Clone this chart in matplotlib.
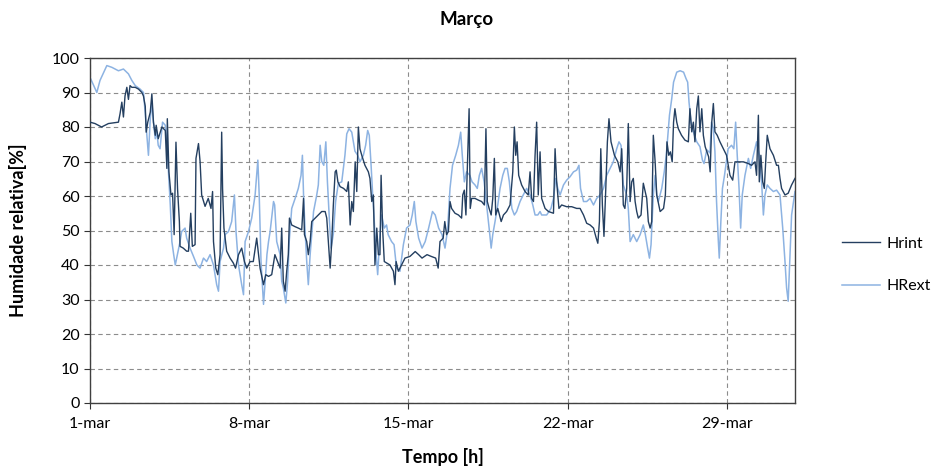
import matplotlib
matplotlib.use("Agg")
import matplotlib.pyplot as plt
import numpy as np

# ---- data (time in days since 1-mar 00h, relative humidity %) ----
hrint_t = [0.0, 0.22, 0.51, 0.81, 1.25, 1.32, 1.4, 1.47, 1.54, 1.62, 1.69, 1.76, 1.84, 1.99, 2.13, 2.28,
           2.35, 2.43, 2.47, 2.54, 2.65, 2.72, 2.79, 2.87, 2.91, 3.0, 3.16, 3.31, 3.38, 3.4, 3.47, 3.56,
           3.63, 3.7, 3.78, 3.85, 3.93, 3.96, 4.1, 4.25, 4.33, 4.43, 4.5, 4.62, 4.66, 4.77, 4.84, 4.91,
           5.06, 5.2, 5.32, 5.39, 5.43, 5.53, 5.62, 5.72, 5.79, 5.83, 5.89, 6.01, 6.16, 6.3, 6.4, 6.53,
           6.67, 6.79, 6.89, 7.04, 7.18, 7.33, 7.48, 7.63, 7.73, 7.85, 7.99, 8.13, 8.25, 8.36, 8.43, 8.5,
           8.58, 8.65, 8.72, 8.77, 8.87, 9.02, 9.16, 9.31, 9.39, 9.43, 9.53, 9.6, 9.68, 9.75, 9.9, 10.04,
           10.19, 10.34, 10.41, 10.48, 10.56, 10.63, 10.7, 10.78, 10.83, 10.9, 11.0, 11.15, 11.29, 11.36,
           11.44, 11.51, 11.58, 11.66, 11.73, 11.8, 11.87, 11.95, 12.09, 12.24, 12.31, 12.39, 12.46,
           12.53, 12.61, 12.68, 12.75, 12.8, 12.87, 12.94, 13.04, 13.19, 13.34, 13.41, 13.46, 13.56,
           13.7, 13.85, 14.07, 14.3, 14.45, 14.6, 14.82, 15.0, 15.2, 15.31, 15.39, 15.53, 15.6, 15.68,
           15.76, 15.83, 15.9, 16.05, 16.2, 16.34, 16.39, 16.46, 16.53, 16.61, 16.67, 16.72, 16.78,
           16.93, 17.08, 17.22, 17.34, 17.41, 17.47, 17.55, 17.64, 17.71, 17.78, 17.84, 17.93, 18.08,
           18.18, 18.32, 18.47, 18.59, 18.66, 18.72, 18.78, 18.85, 18.98, 19.13, 19.27, 19.35, 19.42,
           19.5, 19.57, 19.64, 19.71, 19.79, 19.86, 20.01, 20.16, 20.38, 20.45, 20.52, 20.62, 20.74,
           20.96, 21.18, 21.4, 21.55, 21.7, 21.84, 21.99, 22.14, 22.26, 22.33, 22.4, 22.46, 22.53, 22.6,
           22.68, 22.75, 22.82, 22.91, 23.06, 23.21, 23.31, 23.38, 23.45, 23.52, 23.6, 23.67, 23.75,
           23.82, 23.89, 23.97, 24.04, 24.11, 24.23, 24.33, 24.41, 24.48, 24.55, 24.63, 24.7, 24.77,
           24.85, 24.92, 25.07, 25.22, 25.3, 25.37, 25.45, 25.52, 25.6, 25.66, 25.72, 25.8, 25.87, 26.01,
           26.16, 26.31, 26.38, 26.46, 26.53, 26.6, 26.68, 26.75, 26.82, 26.9, 26.97, 27.05, 27.2, 27.27,
           27.34, 27.41, 27.48, 27.58, 27.7, 27.85, 27.99, 28.14, 28.26, 28.36, 28.51, 28.73, 28.95,
           29.09, 29.24, 29.31, 29.39, 29.43, 29.5, 29.58, 29.65, 29.72, 29.78, 29.9, 30.05, 30.19,
           30.27, 30.34, 30.41, 30.56, 30.7, 30.85, 31.0]
hrint_v = [81.4, 81, 80, 81, 81.4, 83.8, 87.2, 82.9, 89, 91.5, 88, 92, 91.5, 91.5, 91, 90,
           89, 86, 78.5, 81.4, 84.3, 89.6, 81.4, 77.6, 80.5, 76.6, 80, 79, 68, 82.4, 67, 60.3,
           60.8, 48.8, 75.6, 62, 52.6, 45.4, 44.9, 44, 44, 55, 45.4, 45.9, 70.9, 75.2, 70, 60.3,
           57, 59.3, 56.4, 61.3, 46.8, 39.1, 37.2, 43, 78.5, 62, 50.7, 44, 42, 40.6, 39.1, 43,
           44.9, 41, 39.1, 41, 41, 47.8, 39, 34.3, 37.2, 36.7, 37.2, 43, 41, 39.1, 50.7, 35.3,
           32.4, 38.2, 43, 53.6, 51.6, 51.1, 50.7, 50.2, 59.3, 48.8, 46.8, 43, 46.8, 52.6, 53.6, 54.5,
           55.5, 55.5, 53.6, 46.8, 39.1, 46.8, 57.4, 67, 67.5, 64.1, 62.7, 62.2, 61.3, 64.1,
           51.6, 58.4, 55.5, 69.9, 61.3, 80, 73.7, 71.8, 68.9, 67, 65.1, 58.4, 60.3,
           40, 50.7, 43, 43, 66, 50, 41, 40.6, 40, 38.2, 34.3, 41, 38.2,
           40, 42, 42.5, 43.9, 43, 42, 43, 42.5, 42, 39.1, 46.8, 47.8, 52.6, 48.8,
           49.7, 58.4, 56.4, 55, 54.5, 53.6, 60.3, 61.7, 54.5, 71.8, 85.3, 56.4, 59.3,
           59.3, 58.8, 58.4, 57.4, 79.5, 58.4, 56.4, 54.5, 59.3, 70.9, 54.5, 56.4, 52.6,
           54.5, 55.5, 57.4, 67, 80, 71.8, 75.7, 66, 63.2, 61.3, 60.3, 67, 59.3,
           58.4, 71.8, 81.4, 60.3, 72.8, 59.3, 56.4, 55.5, 55, 73.7, 64.1, 56.4, 57.4,
           56.9, 56.9, 56.4, 56.4, 54.5, 52.1, 51.6, 50.7, 47.8, 46.3, 52.6, 73.7, 57.4, 48.3,
           62.2, 75.7, 82.4, 75.7, 71.8, 69.9, 67, 73.7, 57.4, 56.4, 62.2, 81, 58.4,
           64.1, 65.1, 58.4, 55.5, 53.6, 54.5, 63.7, 61.3, 59.3, 52.6, 50.7, 52.6, 77.6,
           69.9, 60.3, 55.5, 56.4, 60.3, 75.7, 71.8, 72.8, 69.9, 81.4, 85.3, 81.4, 79.5, 77.6,
           76.2, 75.7, 85.3, 78.6, 81.4, 75.7, 85.3, 89, 78.6, 85.3, 77.6, 74.3, 71.4, 67,
           81.4, 86.8, 78.6, 77.6, 75.7, 73.7, 71.8, 66, 64.6, 69.9, 69.9, 69.9, 69.4,
           68.9, 69.9, 66, 83.4, 64.1, 71.8, 64.1, 62.2, 70.9, 77.6, 73.7, 71.8, 68.9,
           68.9, 65.1, 62.2, 60.3, 60.8, 63.2, 65.1]

hrext_t = [0.0, 0.3, 0.44, 0.74, 0.96, 1.25, 1.47, 1.69, 1.84, 1.99, 2.2, 2.35, 2.43, 2.5, 2.57, 2.65,
           2.72, 2.79, 2.87, 2.94, 3.0, 3.08, 3.19, 3.31, 3.38, 3.45, 3.53, 3.6, 3.68, 3.75, 3.96, 4.03,
           4.18, 4.25, 4.4, 4.55, 4.7, 4.84, 4.99, 5.13, 5.28, 5.43, 5.57, 5.65, 5.72, 5.87, 5.94, 6.09,
           6.23, 6.35, 6.42, 6.53, 6.67, 6.75, 6.82, 6.97, 7.11, 7.26, 7.38, 7.44, 7.52, 7.63, 7.7, 7.78,
           7.85, 7.92, 8.07, 8.12, 8.21, 8.36, 8.43, 8.5, 8.61, 8.69, 8.76, 8.87, 9.02, 9.16, 9.28, 9.34,
           9.39, 9.46, 9.53, 9.6, 9.68, 9.83, 9.97, 10.04, 10.12, 10.19, 10.28, 10.37, 10.44, 10.53,
           10.6, 10.7, 10.8, 10.92, 11.07, 11.21, 11.29, 11.39, 11.51, 11.58, 11.65, 11.77, 11.87,
           12.02, 12.12, 12.21, 12.28, 12.36, 12.43, 12.5, 12.58, 12.65, 12.73, 12.82, 12.94, 13.04,
           13.11, 13.26, 13.37, 13.48, 13.63, 13.78, 13.92, 14.07, 14.17, 14.26, 14.33, 14.45, 14.6,
           14.74, 14.89, 15.06, 15.18, 15.33, 15.48, 15.61, 15.72, 15.83, 15.94, 16.08, 16.2, 16.3,
           16.37, 16.46, 16.56, 16.7, 16.8, 16.93, 17.03, 17.12, 17.22, 17.33, 17.44, 17.55, 17.64,
           17.71, 17.81, 17.93, 18.03, 18.15, 18.25, 18.35, 18.44, 18.55, 18.66, 18.76, 18.91, 19.05,
           19.2, 19.35, 19.47, 19.57, 19.69, 19.79, 19.86, 20.08, 20.27, 20.38, 20.48, 20.57, 20.67,
           20.82, 20.96, 21.11, 21.26, 21.4, 21.5, 21.57, 21.7, 21.84, 21.99, 22.14, 22.28, 22.43,
           22.58, 22.72, 22.87, 23.01, 23.16, 23.26, 23.35, 23.45, 23.6, 23.67, 23.75, 23.89, 24.04,
           24.19, 24.33, 24.42, 24.52, 24.6, 24.67, 24.77, 24.85, 24.92, 24.99, 25.14, 25.25, 25.34,
           25.41, 25.48, 25.58, 25.66, 25.8, 25.95, 26.1, 26.21, 26.28, 26.34, 26.43, 26.53, 26.68,
           26.82, 26.93, 27.0, 27.12, 27.26, 27.33, 27.41, 27.48, 27.55, 27.63, 27.67, 27.74, 27.81,
           27.9, 28.06, 28.21, 28.31, 28.39, 28.46, 28.54, 28.61, 28.68, 28.8, 28.95, 29.05, 29.17,
           29.31, 29.43, 29.53, 29.61, 29.68, 29.78, 29.9, 30.05, 30.19, 30.34, 30.46, 30.56, 30.63,
           30.7, 30.78, 30.85, 31.0]
hrext_v = [94.4, 90, 93.5, 97.8, 97.3, 96.3, 96.8, 95.4, 93.5, 92, 91, 90, 84, 77.6, 71.8, 82.4,
           87, 81.4, 76.6, 78.5, 74.7, 73.7, 81.4, 80.5, 75.6, 67, 57.4, 46.8, 43, 40, 46.8, 49.7,
           50.7, 47.8, 44.9, 42.5, 40, 39.1, 42, 41, 43, 40, 34.3, 32.4, 41, 44.9, 48.8, 49.7,
           52.6, 60.3, 49.7, 40, 34.3, 31.4, 46.8, 49.7, 53.6, 60.3, 70.4, 60.3, 41, 28.6, 35, 43,
           46.8, 49.7, 58.4, 57.4, 46.8, 43, 35.3, 33.4, 29, 35.3, 46.8, 56.4, 59.3, 62.2, 66, 71.8,
           60.3, 49.7, 41, 34.3, 43, 55.5, 60.3, 63.2, 74.7, 70, 68.9, 75.7, 64.1, 52.6,
           44.9, 49, 58.4, 63.7, 64.1, 71.8, 78, 79.5, 78.5, 75.7, 73, 71.8, 69.9,
           71.8, 74.7, 79, 77.6, 68.9, 60.3, 52.6, 43, 37.2, 46.8, 54.5, 50.7, 51.6,
           48.8, 46.8, 45.9, 39.1, 38.2, 45.9, 50.7, 51.6, 54.5, 58.4, 52.6, 47.8, 44.9,
           46.8, 50.7, 55.5, 54.5, 50.7, 48.8, 44.9, 50, 62.2, 68.9, 71.8, 74.7, 78.5,
           71.8, 64.1, 67, 66, 64.1, 63.2, 62.2, 66, 68, 64.1, 57.4, 50.7, 44.9,
           48.8, 52.6, 57.4, 62.2, 66, 68, 68, 64.1, 56.4, 54.5, 55.5, 58.4, 60.3,
           62.2, 60.3, 57.4, 54.5, 54.5, 55.5, 54.5, 54.5, 56.4, 59.3, 65.1, 62.2, 60.3,
           63.2, 64.6, 65.6, 67, 67.5, 68.9, 62.2, 58.4, 58.4, 59.3, 57.4, 59.3, 60.3,
           62.2, 66, 68, 69.9, 73.7, 75.7, 74.7, 63.2, 60.3, 56.4, 46.8, 48.8, 46.8,
           48.8, 51.6, 48.8, 44.9, 42, 45.9, 60.3, 66, 60.3, 58.4, 62.2, 67, 71.8,
           77.6, 83.4, 88.2, 93, 95.9, 96.3, 95.9, 94, 93, 87.2, 81.4, 78.6, 75.7,
           74.3, 70.4, 69.4, 73.4, 72.5, 81.4, 79.5, 72.8, 58.4, 46.8, 42, 52.6, 62.2,
           66, 73.7, 74.7, 73.7, 81.4, 71.8, 62.2, 50.7, 60.3, 66, 70.9, 68, 71.8,
           75.7, 71.8, 64.1, 54.5, 60.3, 63.2, 62.2, 61.3, 61.7, 60.3, 50.7, 41, 33.4,
           29.5, 43, 54.5, 61.3]

tick_days = [0, 7, 14, 21, 28]
tick_labels = ["1-mar", "8-mar", "15-mar", "22-mar", "29-mar"]
series_names = ["Hrint", "HRext"]

# ---- plot ----
plt.rcParams['font.family'] = ['Lato', 'DejaVu Sans']
fig = plt.figure(figsize=(9.34, 4.68), dpi=100)
ax = fig.add_axes([90/934, 1 - 403/468, 705/934, 345/468])

dark = '#243F60'
light = '#8DB3E2'
ax.plot(hrext_t, hrext_v, color=light, lw=1.1, label=series_names[1], zorder=2)
ax.plot(hrint_t, hrint_v, color=dark, lw=1.0, label=series_names[0], zorder=3)

ax.set_xlim(0, 31)
ax.set_ylim(0, 100)
ax.set_yticks(np.arange(0, 101, 10))
ax.set_xticks(tick_days)
ax.set_xticklabels(tick_labels)
ax.tick_params(axis='both', labelsize=11.5, colors='#333333', length=4, direction='out')
ax.tick_params(axis='x', pad=6)
for lab in ax.get_xticklabels() + ax.get_yticklabels():
    lab.set_color('black')

ax.grid(True, which='major', color='#8C8C8C', linestyle=(0, (4, 3)), linewidth=0.8)
ax.set_axisbelow(True)
for s in ax.spines.values():
    s.set_color('#404040')
    s.set_linewidth(1.0)

fig.text(0.5, 1 - 20/468, "Março", fontsize=13.5, fontweight='bold', ha='center', va='center')
ax.set_xlabel("Tempo [h]", fontsize=13, fontweight='bold', labelpad=12)
ax.set_ylabel("Humidade relativa[%]", fontsize=13, fontweight='bold', labelpad=18)

h, l = ax.get_legend_handles_labels()
leg = fig.legend([h[1], h[0]], [l[1], l[0]], loc='center left',
                 bbox_to_anchor=(842/934, 1 - 265/468), frameon=False,
                 borderpad=0, borderaxespad=0,
                 fontsize=11.5, handlelength=2.4, labelspacing=1.75, handletextpad=0.4)

fig.savefig("out.png", dpi=100)
